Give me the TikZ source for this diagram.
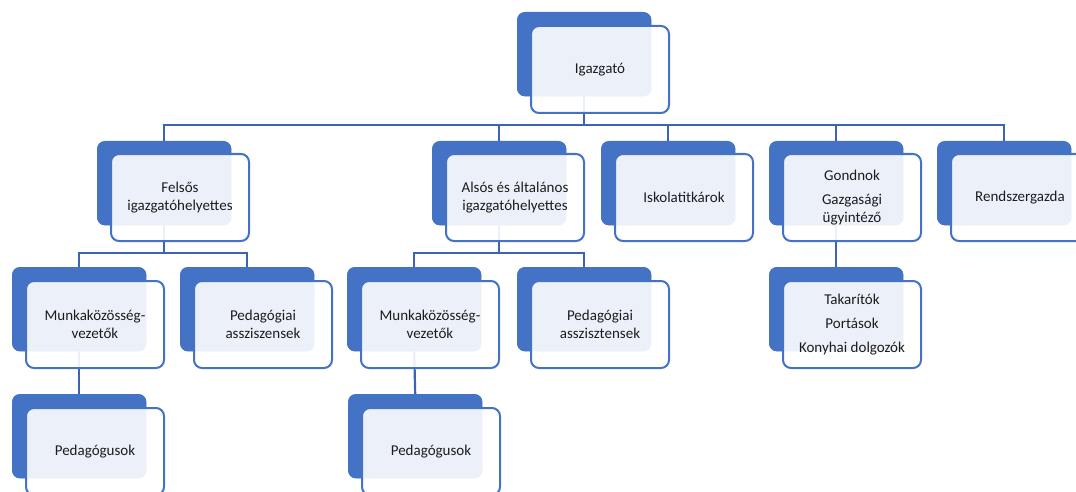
\documentclass[tikz,border=0pt]{standalone}
\usepackage{fontspec}
\setmainfont{Carlito}
\definecolor{bblue}{HTML}{4472C4}
\definecolor{cblue}{HTML}{3D63B3}
\definecolor{txt}{HTML}{1C1C1C}
\tikzset{
  backbox/.style={rectangle, rounded corners=8pt, fill=bblue, minimum width=134pt, minimum height=84pt, anchor=north west, inner sep=0pt},
  frontbox/.style={rectangle, rounded corners=8pt, draw=bblue, line width=2pt, fill=white, fill opacity=0.9, text opacity=1, minimum width=138pt, minimum height=87pt, anchor=north west, align=center, text=txt, font=\fontsize{15}{18}\selectfont, inner sep=2pt},
  conn/.style={draw=cblue, line width=2.2pt}
}
\begin{document}
\begin{tikzpicture}[x=1pt,y=-1pt]
\useasboundingbox (0,0) rectangle (1076,492);
\clip (0,0) rectangle (1076,492);
% back boxes
\node[backbox] (ig)  at (517,12) {};
\node[backbox] (fel) at (97,141) {};
\node[backbox] (als) at (432,141) {};
\node[backbox] (isk) at (601,141) {};
\node[backbox] (gon) at (769,141) {};
\node[backbox] (ren) at (937,141) {};
\node[backbox] (mka) at (12,267) {};
\node[backbox] (paa) at (180,267) {};
\node[backbox] (mkb) at (347,267) {};
\node[backbox] (pab) at (517,267) {};
\node[backbox] (tak) at (769,267) {};
\node[backbox] (pga) at (12,394) {};
\node[backbox] (pgb) at (348,394) {};
% bus coordinates
\coordinate (busa) at (0,125);
\coordinate (busb) at (0,253);
% connectors
\draw[conn] (ig.south) -- (ig.south |- busa);
\draw[conn] (fel.north) -- (fel.north |- busa) -- (ren.north |- busa) -- (ren.north);
\draw[conn] (als.north) -- (als.north |- busa);
\draw[conn] (isk.north) -- (isk.north |- busa);
\draw[conn] (gon.north) -- (gon.north |- busa);
\draw[conn] (fel.south) -- (fel.south |- busb);
\draw[conn] (mka.north) -- (mka.north |- busb) -- (paa.north |- busb) -- (paa.north);
\draw[conn] (als.south) -- (als.south |- busb);
\draw[conn] (mkb.north) -- (mkb.north |- busb) -- (pab.north |- busb) -- (pab.north);
\draw[conn] (gon.south) -- (tak.north);
\draw[conn] (mka.south) -- (pga.north);
\draw[conn] (mkb.south) -- (pgb.north);
% redraw back boxes over connector ends
\foreach \n in {ig,fel,als,isk,gon,ren,mka,paa,mkb,pab,tak,pga,pgb}{
  \fill[bblue, rounded corners=8pt] (\n.north west) rectangle (\n.south east);
}
% front boxes
\node[frontbox] (igF)  at (530,25) {Igazgató};
\node[frontbox] (felF) at (110,153) {Felsős\\igazgatóhelyettes};
\node[frontbox] (alsF) at (445,153) {Alsós és általános\\igazgatóhelyettes};
\node[frontbox] (iskF) at (614,153) {Iskolatitkárok};
\node[frontbox] (gonF) at (782,153) {Gondnok\\[6pt]Gazgasági\\ügyintéző};
\node[frontbox] (renF) at (950,153) {Rendszergazda};
\node[frontbox] (mkaF) at (25,280) {Munkaközösség-\\vezetők};
\node[frontbox] (paaF) at (193,280) {Pedagógiai\\assziszensek};
\node[frontbox] (mkbF) at (360,280) {Munkaközösség-\\vezetők};
\node[frontbox] (pabF) at (530,280) {Pedagógiai\\asszisztensek};
\node[frontbox] (takF) at (782,280) {Takarítók\\[6pt]Portások\\[6pt]Konyhai dolgozók};
\node[frontbox] (pgaF) at (25,407) {Pedagógusok};
\node[frontbox] (pgbF) at (361,407) {Pedagógusok};
\end{tikzpicture}
\end{document}
